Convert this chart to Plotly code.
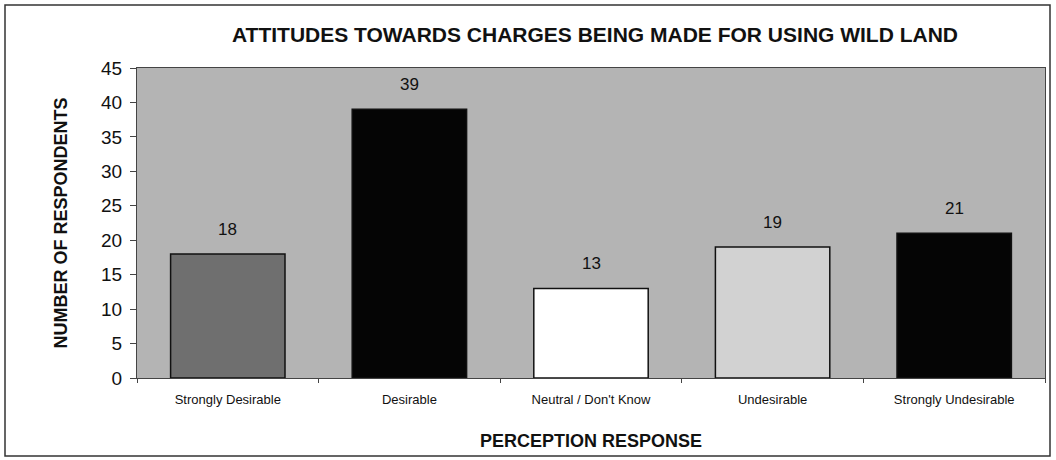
import plotly.graph_objects as go

categories = ["Strongly Desirable", "Desirable", "Neutral / Don't Know", "Undesirable", "Strongly Undesirable"]
respondents = [18, 39, 13, 19, 21]
bar_colors = ["#6f6f6f", "#050505", "#ffffff", "#d2d2d2", "#050505"]
y_ticks = [0, 5, 10, 15, 20, 25, 30, 35, 40, 45]

fig = go.Figure(go.Bar(
    x=categories, y=respondents,
    marker=dict(color=bar_colors, line=dict(color="#111111", width=1.5)),
    width=0.63,
))

for c, v in zip(categories, respondents):
    fig.add_annotation(x=c, y=v, text=str(v), showarrow=False,
                       yanchor="bottom", yshift=13,
                       font=dict(family="Liberation Sans, Arial", size=17, color="#111111"))

L, R, T, B = 137, 11, 68, 82
W, H = 1056, 460
pw, ph = W - L - R, H - T - B

def px(x):
    return (x - L) / pw

def py(y):
    return (H - B - y) / ph

fig.add_shape(type="rect", xref="paper", yref="paper",
              x0=px(5), x1=px(1050), y0=py(456), y1=py(5),
              line=dict(color="#333333", width=1.5), fillcolor="rgba(0,0,0,0)", layer="below")

fig.update_layout(
    width=W, height=H,
    margin=dict(l=L, r=R, t=T, b=B),
    paper_bgcolor="#ffffff",
    plot_bgcolor="#b4b4b4",
    showlegend=False,
    bargap=0.37,
    title=dict(text="<b>ATTITUDES TOWARDS CHARGES BEING MADE FOR USING WILD LAND</b>",
               x=595 / W, xanchor="center", y=1 - 35 / H, yanchor="middle",
               font=dict(family="Liberation Sans, Arial", size=21, color="#111111")),
    xaxis=dict(
        title=dict(text="<b>PERCEPTION RESPONSE</b>", standoff=28,
                   font=dict(family="Liberation Sans, Arial", size=18, color="#111111")),
        tickfont=dict(family="Liberation Sans, Arial", size=13, color="#111111"),
        ticklabelstandoff=9,
        showline=True, linecolor="#444444", linewidth=1, mirror=True,
        ticks="outside", tickson="boundaries", ticklen=4, tickcolor="#444444",
        showgrid=False,
    ),
    yaxis=dict(
        title=dict(text="<b>NUMBER OF RESPONDENTS</b>", standoff=28,
                   font=dict(family="Liberation Sans, Arial", size=18, color="#111111")),
        range=[0, 45], tickvals=y_ticks,
        tickfont=dict(family="Liberation Sans, Arial", size=19, color="#111111"),
        ticklabelstandoff=4,
        showline=True, linecolor="#444444", linewidth=1, mirror=True,
        ticks="outside", ticklen=6, tickcolor="#444444",
        showgrid=False, zeroline=False,
    ),
)

fig.write_html("out.html")
